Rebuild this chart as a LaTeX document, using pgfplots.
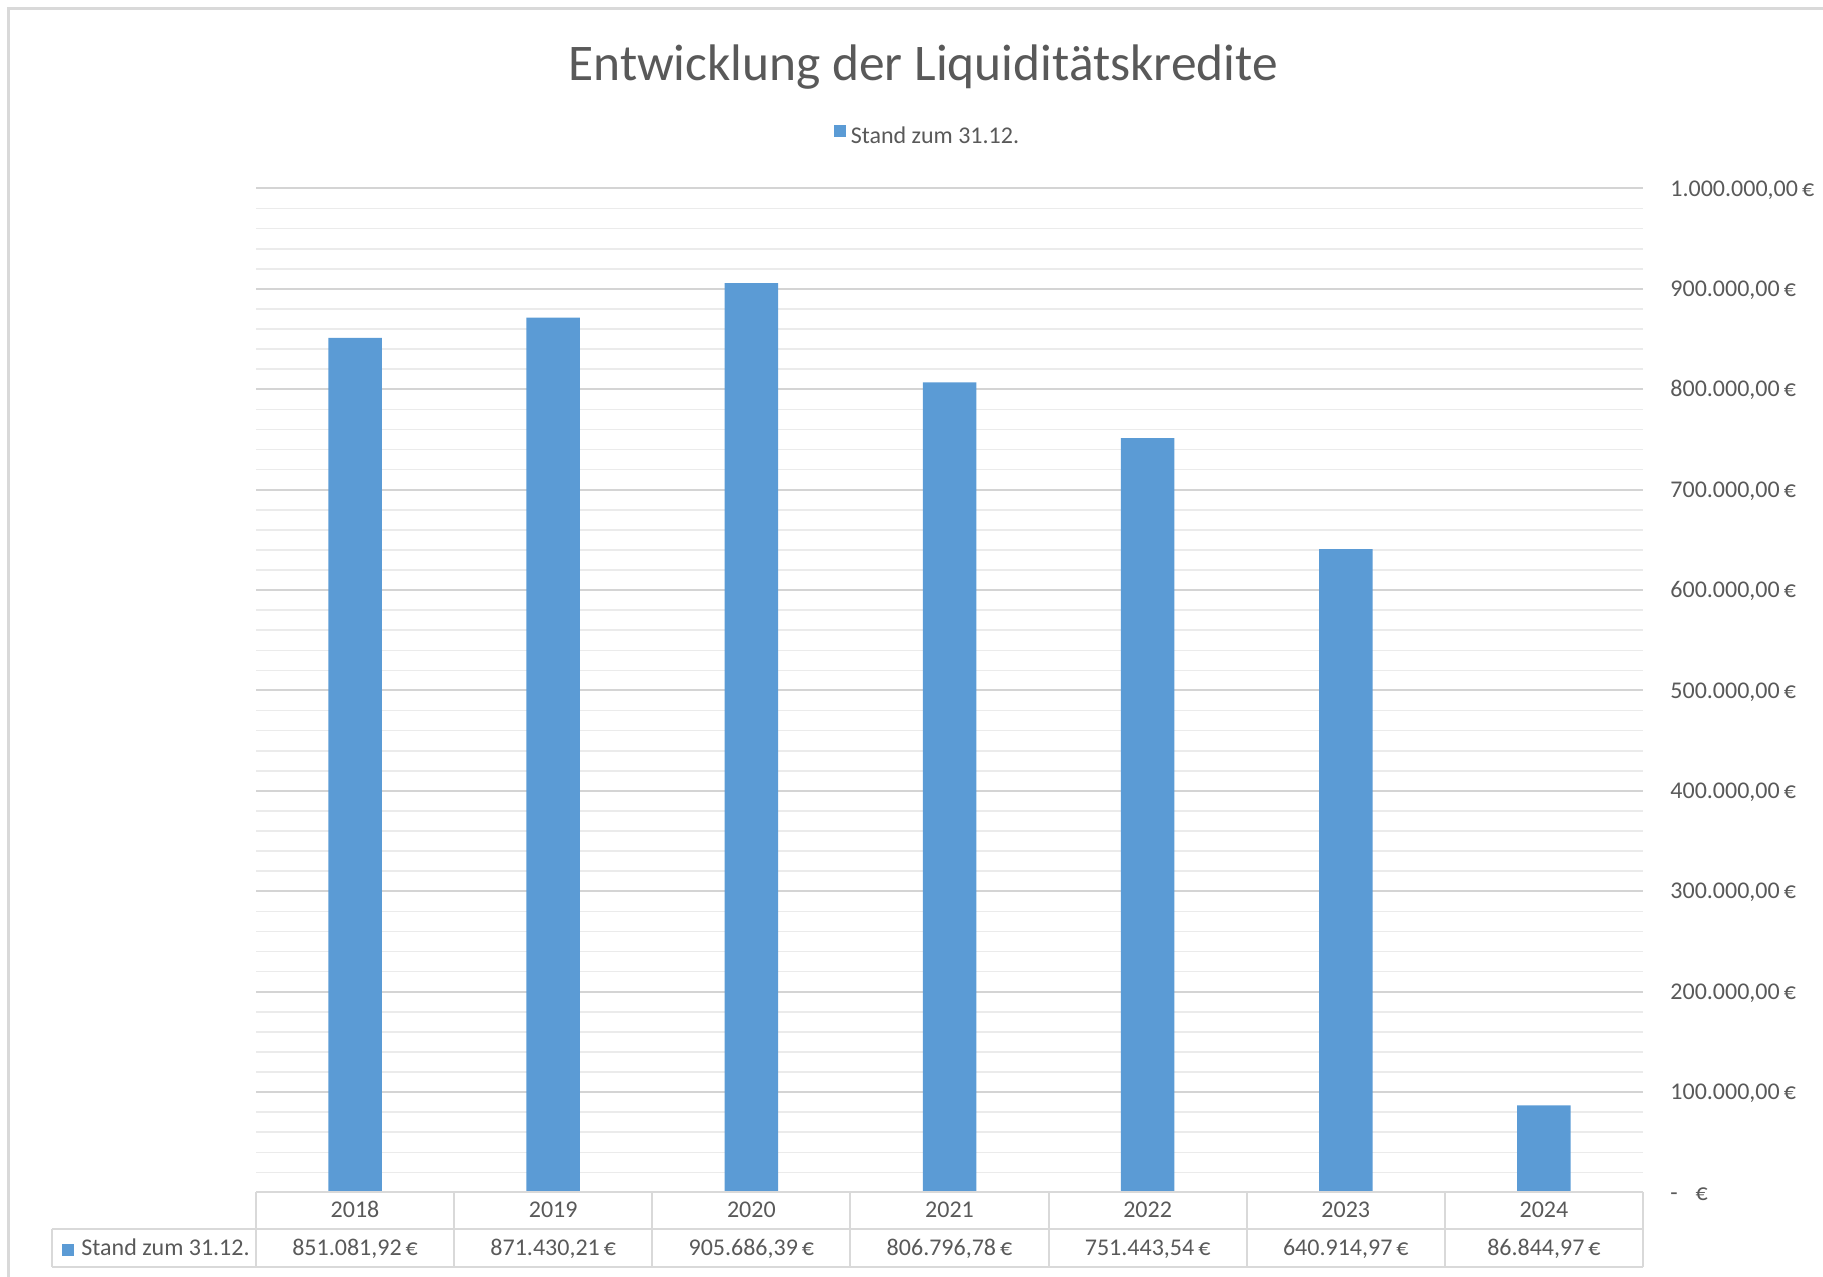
\documentclass[border=0pt]{standalone}
\usepackage{fontspec}
\setmainfont{Carlito}
\usepackage{pgfplots}
\pgfplotsset{compat=1.18}
\definecolor{barblue}{HTML}{5B9BD5}
\definecolor{txt}{HTML}{595959}
\definecolor{majgrid}{HTML}{D4D4D4}
\definecolor{mingrid}{HTML}{EBEBEB}
\definecolor{tbl}{HTML}{D9D9D9}
\begin{document}
\begin{tikzpicture}[font=\fontsize{12}{14}\selectfont]
\useasboundingbox (0,0) rectangle (911.5pt,638.5pt);
\draw[tbl, line width=1.5pt] (4pt,0) -- (4pt,634pt) -- (911.5pt,634pt);
\begin{axis}[
  at={(128pt,42.25pt)}, anchor=south west,
  scale only axis, width=693.5pt, height=502pt,
  xmin=-0.5, xmax=6.5, ymin=0, ymax=1000000,
  scaled y ticks=false,
  clip=false,
  axis line style={draw=none},
  ybar, bar width=0.27,
  xtick={0,1,2,3,4,5,6},
  xticklabels={2018,2019,2020,2021,2022,2023,2024},
  xticklabel style={anchor=base, yshift=-12.75pt, inner sep=0pt, text=txt, font=\fontsize{12}{14}\selectfont},
  ytick={0,100000,200000,300000,400000,500000,600000,700000,800000,900000,1000000},
  yticklabels={{-\hspace{0.75em}€},{100.000,00\,€},{200.000,00\,€},{300.000,00\,€},{400.000,00\,€},{500.000,00\,€},{600.000,00\,€},{700.000,00\,€},{800.000,00\,€},{900.000,00\,€},{1.000.000,00\,€}},
  yticklabel pos=right,
  yticklabel style={anchor=base west, inner sep=0pt, xshift=13.5pt, yshift=-3.8pt, text=txt, font=\fontsize{12}{14}\selectfont},
  /pgf/number format/assume math mode=true,
  minor y tick num=4,
  ymajorgrids, yminorgrids,
  major grid style={majgrid, line width=1pt},
  minor grid style={mingrid, line width=0.8pt},
  major tick length=0pt, minor tick length=0pt,
  tick style={draw=none},
  title={Entwicklung der Liquiditätskredite},
  title style={at={(axis description cs:0.481,1.0955)}, anchor=base, font=\fontsize{25.7}{30}\selectfont, text=txt},
  legend style={at={(axis description cs:0.4845,1.0519)}, anchor=center, draw=none, fill=none, text=txt, font=\fontsize{12}{14}\selectfont, nodes={inner sep=1.5pt}},
  legend image code/.code={\fill[barblue] (0pt,-0.5pt) rectangle (6pt,5.5pt);},
  /tikz/every odd column/.append style={column sep=1pt},
]
\addplot[fill=barblue, draw=none] coordinates {(0,851081.92) (1,871430.21) (2,905686.39) (3,806796.78) (4,751443.54) (5,640914.97) (6,86844.97)};
\addlegendentry{Stand zum 31.12.}
% data table grid
\draw[tbl, line width=1pt] (axis cs:-0.5,0) -- (axis cs:6.5,0);
\draw[tbl, line width=1pt] (axis cs:-1.53,-36340) -- (axis cs:6.5,-36340);
\draw[tbl, line width=1pt] (axis cs:-1.53,-74170) -- (axis cs:6.5,-74170);
\draw[tbl, line width=1pt] (axis cs:-1.53,-36340) -- (axis cs:-1.53,-74170);
\draw[tbl, line width=1pt] (axis cs:-0.5,0) -- (axis cs:-0.5,-74170);
\draw[tbl, line width=1pt] (axis cs:0.5,0) -- (axis cs:0.5,-74170);
\draw[tbl, line width=1pt] (axis cs:1.5,0) -- (axis cs:1.5,-74170);
\draw[tbl, line width=1pt] (axis cs:2.5,0) -- (axis cs:2.5,-74170);
\draw[tbl, line width=1pt] (axis cs:3.5,0) -- (axis cs:3.5,-74170);
\draw[tbl, line width=1pt] (axis cs:4.5,0) -- (axis cs:4.5,-74170);
\draw[tbl, line width=1pt] (axis cs:5.5,0) -- (axis cs:5.5,-74170);
\draw[tbl, line width=1pt] (axis cs:6.5,0) -- (axis cs:6.5,-74170);
\node[anchor=base west, inner sep=0pt, text=txt] at (axis cs:-1.479,-63220) {\textcolor{barblue}{\rule{6pt}{6pt}}\hspace{3.5pt}Stand zum 31.12.};
\node[anchor=base, inner sep=0pt, text=txt] at (axis cs:0,-63220) {851.081,92\,€};
\node[anchor=base, inner sep=0pt, text=txt] at (axis cs:1,-63220) {871.430,21\,€};
\node[anchor=base, inner sep=0pt, text=txt] at (axis cs:2,-63220) {905.686,39\,€};
\node[anchor=base, inner sep=0pt, text=txt] at (axis cs:3,-63220) {806.796,78\,€};
\node[anchor=base, inner sep=0pt, text=txt] at (axis cs:4,-63220) {751.443,54\,€};
\node[anchor=base, inner sep=0pt, text=txt] at (axis cs:5,-63220) {640.914,97\,€};
\node[anchor=base, inner sep=0pt, text=txt] at (axis cs:6,-63220) {86.844,97\,€};
\end{axis}
\end{tikzpicture}
\end{document}
